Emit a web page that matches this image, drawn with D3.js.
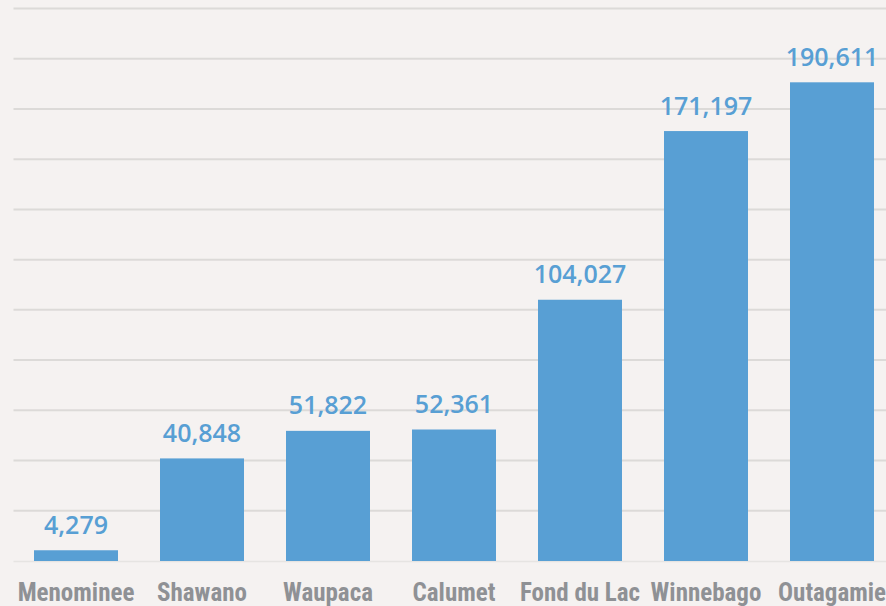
<!DOCTYPE html>
<html><head><meta charset="utf-8">
<script src="https://cdn.jsdelivr.net/npm/d3@7"></script>
<style>
html,body{margin:0;padding:0;background:#f5f2f1;}
svg{display:block;}
</style></head>
<body>
<svg id="c" width="886" height="606"></svg>
<script>
const categories = ["Menominee","Shawano","Waupaca","Calumet","Fond du Lac","Winnebago","Outagamie"];
const values = [4279, 40848, 51822, 52361, 104027, 171197, 190611];
const gridTicks = [20000,40000,60000,80000,100000,120000,140000,160000,180000,200000,220000];

const svg = d3.select("#c");
svg.append("rect").attr("width",886).attr("height",606).attr("fill","#f5f2f1");

const x = d3.scaleBand().domain(categories).range([13, 895]).paddingInner(1/3).paddingOuter(1/6);
const y = d3.scaleLinear().domain([0, 220000]).range([561, 8.5]);

svg.append("g").selectAll("line").data(gridTicks).join("line")
  .attr("x1", 13.5).attr("x2", 886)
  .attr("y1", d => y(d)).attr("y2", d => y(d))
  .attr("stroke", "#dcdad8").attr("stroke-width", 2);

svg.append("line").attr("x1",13.5).attr("x2",886).attr("y1",y(0)+0.5).attr("y2",y(0)+0.5)
  .attr("stroke","#e6e4e2").attr("stroke-width",1.5);

const data = categories.map((c,i)=>({c, v: values[i]}));

svg.append("g").selectAll("rect").data(data).join("rect")
  .attr("x", d => x(d.c)).attr("width", x.bandwidth())
  .attr("y", d => y(d.v)).attr("height", d => y(0) - y(d.v))
  .attr("fill", "#589fd4");

const fmt = d3.format(",");
svg.append("g").selectAll("text").data(data).join("text")
  .attr("x", d => x(d.c) + x.bandwidth()/2)
  .attr("y", d => y(d.v) - 16.5)
  .attr("text-anchor","middle")
  .attr("font-family","'Open Sans', sans-serif")
  .attr("font-weight",600)
  .attr("font-size","25px")
  .attr("fill","#589fd4")
  .text(d => fmt(d.v));

svg.append("g").selectAll("text").data(categories).join("text")
  .attr("x", d => x(d) + x.bandwidth()/2)
  .attr("y", 601)
  .attr("text-anchor","middle")
  .attr("font-family","'Liberation Sans Narrow', 'Roboto Condensed', sans-serif")
  .attr("font-weight",700)
  .attr("font-size","25px")
  .attr("fill","#8f9195")
  .text(d => d);
</script>
</body></html>
